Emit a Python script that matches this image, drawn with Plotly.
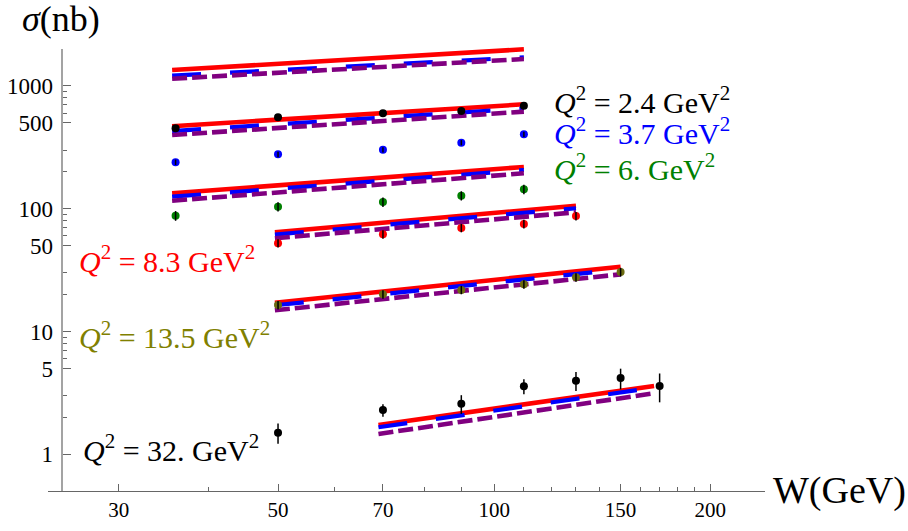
import plotly.graph_objects as go

# ---------------- data ----------------
# measured points: W (GeV), sigma (nb), error (nb)
W_q24 = [36, 50, 70, 90, 110]
sig_q24 = [452, 555, 598, 624, 690]
err_q24 = [20, 24, 24, 25, 28]

W_q37 = [36, 50, 70, 90, 110]
sig_q37 = [239, 277, 302, 345, 403]
err_q37 = [12, 14, 15, 17, 20]

W_q6 = [36, 50, 70, 90, 110]
sig_q6 = [87.7, 103.8, 113.4, 127.6, 143.9]
err_q6 = [8, 9, 10, 11, 13]

W_q83 = [50, 70, 90, 110, 130]
sig_q83 = [52.3, 61.9, 69.7, 75.1, 87.2]
err_q83 = [4, 5, 5.5, 6, 7]

W_q135 = [50, 70, 90, 110, 130, 150]
sig_q135 = [16.4, 20.1, 21.8, 24.2, 27.6, 30.5]
err_q135 = [1.3, 1.6, 1.7, 1.9, 2.2, 2.5]

W_q32 = [50, 70, 90, 110, 130, 150, 170]
sig_q32 = [1.50, 2.29, 2.58, 3.58, 3.98, 4.18, 3.60]
err_q32 = [0.28, 0.27, 0.45, 0.50, 0.70, 0.80, 0.95]

# model curves (power laws -> straight on log-log): end points of each set
curve_w_lo = [35.6, 35.6, 35.6, 49.5, 49.5, 69.0]
curve_w_hi = [110, 110, 110, 130, 150, 167]
red_lo = [1347, 469, 133.5, 64.2, 17.16, 1.733]
red_hi = [1986, 708, 218.6, 105.8, 33.7, 3.60]
blue_lo = [1211, 429, 125.2, 61.6, 16.35, 1.66]
blue_hi = [1710, 655, 206.6, 100.8, 32.0, 3.49]
purple_lo = [1144, 398, 116.2, 57.4, 14.88, 1.463]
purple_hi = [1656, 617, 194.2, 93.5, 29.2, 3.14]

x_major = [30, 50, 70, 100, 150, 200]
x_major_text = ["30", "50", "70", "100", "150", "200"]
x_minor = [40, 60, 80, 90, 110, 120, 130, 140, 160, 170, 180, 190]
y_major = [1, 5, 10, 50, 100, 500, 1000]
y_major_text = ["1", "5", "10", "50", "100", "500", "1000"]
y_minor = [2, 3, 6, 7, 8, 9, 20, 30, 60, 70, 80, 90, 200, 300, 600, 700, 800, 900]

labels = ["2.4", "3.7", "6.", "8.3", "13.5", "32."]

# ---------------- styling ----------------
SERIF = "Liberation Serif"
W, H = 908, 531
L, R, T, B = 48, 765, 40, 491  # plot area in pixels


def px(x, y):
    return (x - L) / (R - L), (B - y) / (B - T)


fig = go.Figure()

# curves
for i in range(len(curve_w_lo)):
    xs = [curve_w_lo[i], curve_w_hi[i]]
    fig.add_trace(go.Scatter(x=xs, y=[red_lo[i], red_hi[i]], mode="lines",
                             line=dict(color="#ff0000", width=4.6), showlegend=False, hoverinfo="skip"))
    fig.add_trace(go.Scatter(x=xs, y=[blue_lo[i], blue_hi[i]], mode="lines",
                             line=dict(color="#0000ff", width=4.2, dash="29px,29px"),
                             showlegend=False, hoverinfo="skip"))
    fig.add_trace(go.Scatter(x=xs, y=[purple_lo[i], purple_hi[i]], mode="lines",
                             line=dict(color="#800080", width=4.6, dash="15px,5px"),
                             showlegend=False, hoverinfo="skip"))

groups = [
    (W_q24, sig_q24, err_q24, "#000000"),
    (W_q37, sig_q37, err_q37, "#0000ff"),
    (W_q6, sig_q6, err_q6, "#008000"),
    (W_q83, sig_q83, err_q83, "#ff0000"),
    (W_q135, sig_q135, err_q135, "#6b6b10"),
    (W_q32, sig_q32, err_q32, "#000000"),
]
for ws, ss, es, col in groups:
    fig.add_trace(go.Scatter(x=ws, y=ss, mode="markers",
                             marker=dict(color=col, size=8, line=dict(width=0)),
                             showlegend=False, cliponaxis=False))
    ex, ey = [], []
    for w, s, e in zip(ws, ss, es):
        ex += [w, w, None]
        ey += [s - e, s + e, None]
    fig.add_trace(go.Scatter(x=ex, y=ey, mode="lines",
                             line=dict(color="#000000", width=1.5),
                             showlegend=False, hoverinfo="skip"))

# annotations
label_pos = [(552, 100, "#000000"), (552, 131, "#0000ff"), (552, 167, "#008000"),
             (77, 259, "#ff0000"), (77, 335, "#808000"), (81, 448, "#000000")]
for (x, y, col), lab in zip(label_pos, labels):
    fx, fy = px(x, y)
    fig.add_annotation(x=fx, y=fy, xref="paper", yref="paper", xanchor="left", yanchor="middle",
                       showarrow=False,
                       text=f"<i>Q</i><sup>2</sup> = {lab} GeV<sup>2</sup>",
                       font=dict(family=SERIF, size=30, color=col))

fx, fy = px(61, 19)
fig.add_annotation(x=fx, y=fy, xref="paper", yref="paper", xanchor="center", yanchor="middle",
                   showarrow=False, text="<i>σ</i>(nb)", font=dict(family=SERIF, size=36, color="black"))
fx, fy = px(771, 490)
fig.add_annotation(x=fx, y=fy, xref="paper", yref="paper", xanchor="left", yanchor="middle",
                   showarrow=False, text="W(GeV)", font=dict(family=SERIF, size=38, color="black"))

# y axis line (drawn at W = 25)
yx, ytop = px(62, 49)
fig.add_shape(type="line", xref="paper", yref="paper", x0=yx, x1=yx, y0=0, y1=ytop,
              line=dict(color="#666666", width=1.2))

AX = "#666666"
fig.update_layout(
    width=W, height=H,
    margin=dict(l=L, r=W - R, t=T, b=H - B, autoexpand=False),
    paper_bgcolor="white", plot_bgcolor="white",
    xaxis=dict(type="log", range=[1.3786, 2.3772], showline=True, linecolor=AX, linewidth=1.2,
               ticks="inside", ticklen=7, tickwidth=1, tickcolor=AX,
               tickmode="array", tickvals=x_major, ticktext=x_major_text,
               tickfont=dict(family=SERIF, size=21, color="black"),
               showgrid=False, zeroline=False, automargin=False,
               minor=dict(tickmode="array", tickvals=x_minor, ticks="inside", ticklen=4,
                          tickcolor=AX, tickwidth=1, showgrid=False)),
    yaxis=dict(type="log", range=[-0.2989, 3.3738], anchor="free", position=yx,
               showline=False, ticks="inside", ticklen=8, tickwidth=1, tickcolor=AX,
               tickmode="array", tickvals=y_major, ticktext=y_major_text,
               tickfont=dict(family=SERIF, size=23, color="black"),
               ticklabelstandoff=9,
               showgrid=False, zeroline=False, automargin=False,
               minor=dict(tickmode="array", tickvals=y_minor, ticks="inside", ticklen=4,
                          tickcolor=AX, tickwidth=1, showgrid=False)),
)

fig.write_html("out.html", config={"displayModeBar": False},
               post_script="document.body.style.margin='0';document.body.style.overflow='hidden';")
